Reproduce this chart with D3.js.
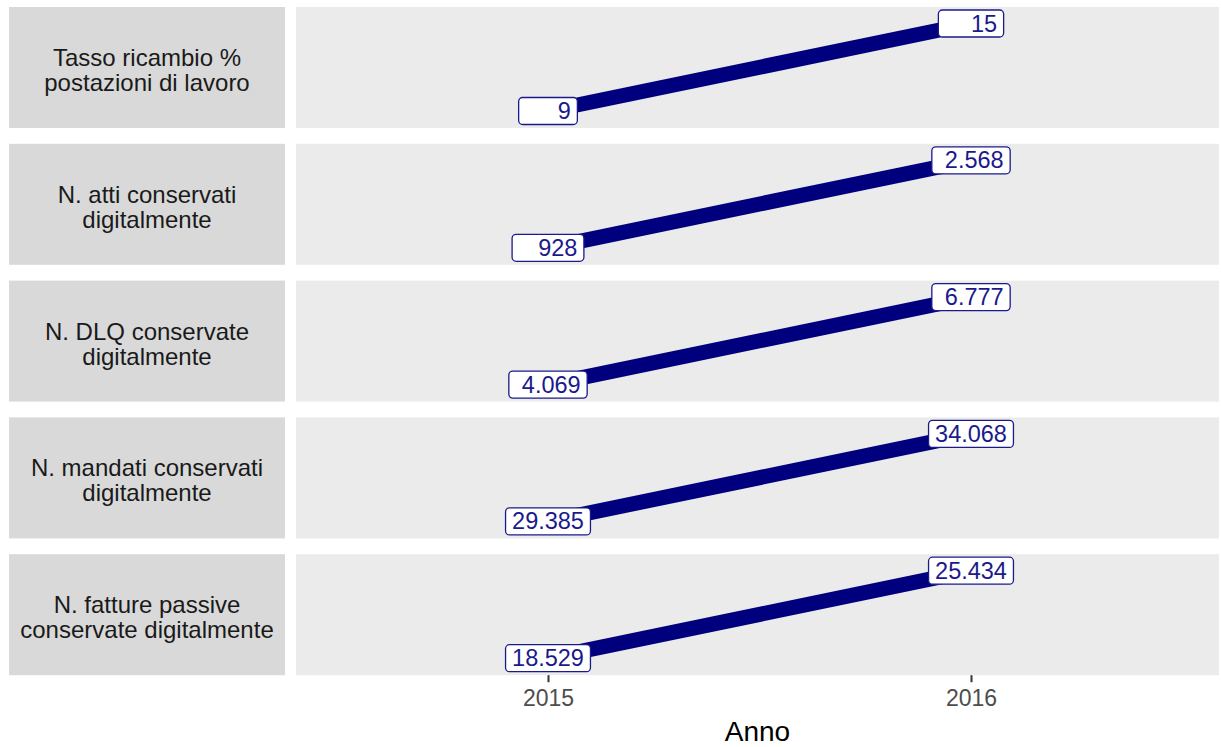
<!DOCTYPE html>
<html>
<head>
<meta charset="utf-8">
<script src="https://cdn.jsdelivr.net/npm/d3@7"></script>
<style>
  body { margin: 0; background: #fff; }
  svg { display: block; font-family: "Liberation Sans", Arial, sans-serif; }
</style>
</head>
<body>
<svg id="chart" width="1221" height="747"></svg>
<script>
// indicators, one facet each
var indicators = [
  ["Tasso ricambio %", "postazioni di lavoro"],
  ["N. atti conservati", "digitalmente"],
  ["N. DLQ conservate", "digitalmente"],
  ["N. mandati conservati", "digitalmente"],
  ["N. fatture passive", "conservate digitalmente"]
];
var years = [2015, 2016];
var values2015 = [9, 928, 4069, 29385, 18529];
var values2016 = [15, 2568, 6777, 34068, 25434];

var svg = d3.select("#chart"),
    width = +svg.attr("width"),
    height = +svg.attr("height");

var stripLeft = 9, stripRight = 285,
    panelLeft = 296, panelRight = 1219,
    top0 = 7, panelH = 121, panelStep = 136.8;

var it = d3.formatLocale({decimal: ",", thousands: ".", grouping: [3], currency: ["€", ""]});
var fmt = it.format(",d");

var x = d3.scaleLinear().domain(years).range([548, 971]);

indicators.forEach(function(lines, i) {
  var yTop = top0 + i * panelStep,
      yBot = yTop + panelH;
  var vals = [values2015[i], values2016[i]];
  var y = d3.scaleLinear()
      .domain(d3.extent(vals))
      .range([yBot - 17, yTop + 16.5]);

  // strip
  svg.append("rect")
    .attr("x", stripLeft).attr("y", yTop)
    .attr("width", stripRight - stripLeft).attr("height", panelH)
    .attr("fill", "#d9d9d9");
  svg.append("g").selectAll("text")
    .data(lines)
    .enter().append("text")
    .attr("x", (stripLeft + stripRight) / 2)
    .attr("y", function(d, k) { return yTop + panelH / 2 + 11 + (k - (lines.length - 1) / 2) * 25; })
    .attr("text-anchor", "middle")
    .attr("font-size", 24)
    .attr("fill", "#1a1a1a")
    .text(function(d) { return d; });

  // panel
  svg.append("rect")
    .attr("x", panelLeft).attr("y", yTop)
    .attr("width", panelRight - panelLeft).attr("height", panelH)
    .attr("fill", "#ebebeb");

  var pts = years.map(function(yr, k) { return {year: yr, value: vals[k]}; });

  svg.append("path")
    .datum(pts)
    .attr("fill", "none")
    .attr("stroke", "#00007f")
    .attr("stroke-width", 15)
    .attr("d", d3.line()
      .x(function(d) { return x(d.year); })
      .y(function(d) { return y(d.value); }));

  var lab = svg.append("g").selectAll("g")
    .data(pts)
    .enter().append("g")
    .attr("transform", function(d) { return "translate(" + x(d.year) + "," + y(d.value) + ")"; });

  lab.append("rect")
    .attr("fill", "#fff")
    .attr("stroke", "#1a1a8c")
    .attr("stroke-width", 1.3)
    .attr("rx", 4).attr("ry", 4);

  var txt = lab.append("text")
    .attr("text-anchor", "middle")
    .attr("y", 8)
    .attr("font-size", 23.5)
    .attr("fill", "#1a1a8c")
    .style("white-space", "pre")
    .text(function(d) { return fmt(d.value).padStart(6, " "); });

  txt.each(function(d) {
    var w = this.getComputedTextLength() + 13;
    d3.select(this.parentNode).select("rect")
      .attr("x", -w / 2).attr("y", -13.5)
      .attr("width", w).attr("height", 27);
  });
});

// x axis under the last panel
var axisY = top0 + 4 * panelStep + panelH;
var axis = svg.append("g")
  .attr("transform", "translate(0," + axisY + ")")
  .call(d3.axisBottom(x).tickValues(years).tickFormat(d3.format("d")).tickSize(7).tickPadding(7).tickSizeOuter(0));
axis.select(".domain").remove();
axis.selectAll(".tick line").attr("stroke", "#333").attr("stroke-width", 2);
axis.selectAll(".tick text")
  .attr("font-size", 23)
  .attr("fill", "#4d4d4d")
  .attr("font-family", "Liberation Sans, Arial, sans-serif");

svg.append("text")
  .attr("x", (panelLeft + panelRight) / 2)
  .attr("y", 741)
  .attr("text-anchor", "middle")
  .attr("font-size", 28)
  .attr("fill", "#000")
  .text("Anno");
</script>
</body>
</html>
